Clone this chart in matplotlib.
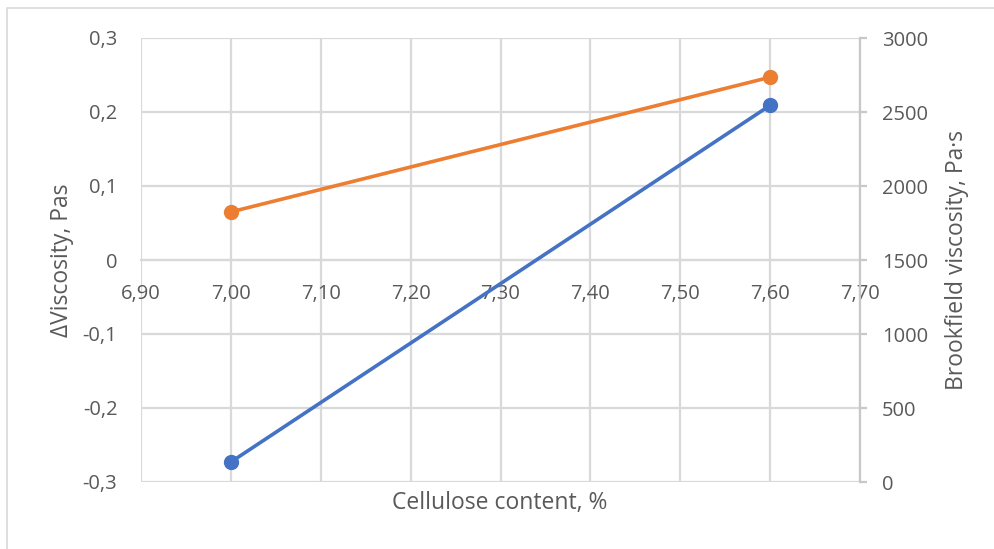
import matplotlib
matplotlib.use("Agg")
import matplotlib.pyplot as plt
from matplotlib.patches import Rectangle
from matplotlib.ticker import FuncFormatter, MultipleLocator

# cellulose content, %
cellulose = [7.00, 7.60]
# change of viscosity, Pas (left axis)
delta_visc = [-0.273, 0.209]
# Brookfield viscosity, Pa·s (right axis)
brookfield = [1825, 2735]

x_ticks = [6.90, 7.00, 7.10, 7.20, 7.30, 7.40, 7.50, 7.60, 7.70]

TXT = '#595959'
GRID = '#d9d9d9'
plt.rcParams['font.family'] = ['Open Sans', 'DejaVu Sans']

fig = plt.figure(figsize=(9.95, 5.49), dpi=100)
ax = fig.add_axes([141/995, 1 - 482/549, (860 - 141)/995, (482 - 38)/549])
ax2 = ax.twinx()

comma = lambda fmt: FuncFormatter(lambda v, p: (fmt % v).replace('.', ','))

ax.set_xlim(6.90, 7.70)
ax.set_xticks(x_ticks)
ax.xaxis.set_major_formatter(comma('%.2f'))
ax.set_ylim(-0.3, 0.3)
ax.yaxis.set_major_locator(MultipleLocator(0.1))
ax.yaxis.set_major_formatter(FuncFormatter(
    lambda v, p: '0' if abs(v) < 1e-9 else ('%.1f' % v).replace('.', ',')))
ax2.set_ylim(0, 3000)
ax2.yaxis.set_major_locator(MultipleLocator(500))

ax.grid(True, color=GRID, lw=1.6)
ax.set_axisbelow(True)
for s in ['top', 'left', 'right']:
    ax.spines[s].set_visible(False)
ax.spines['bottom'].set_position(('data', 0))
ax.spines['bottom'].set_color(GRID)
ax.spines['bottom'].set_linewidth(1.6)
for s in ['top', 'left', 'bottom']:
    ax2.spines[s].set_visible(False)
ax2.spines['right'].set_color('#c8c8c8')
ax2.spines['right'].set_linewidth(1.6)

ax.tick_params(axis='x', length=0, pad=17, labelsize=14.5, labelcolor=TXT)
ax.tick_params(axis='y', length=0, pad=17, labelsize=14.5, labelcolor=TXT)
ax2.tick_params(axis='y', length=5, width=1.6, color='#c8c8c8', pad=11,
                labelsize=14.5, labelcolor=TXT)

ax.plot(cellulose, delta_visc, color='#4472C4', lw=2.6, marker='o',
        ms=10, zorder=3, clip_on=False)
ax2.plot(cellulose, brookfield, color='#ED7D31', lw=2.6, marker='o',
         ms=10, zorder=3, clip_on=False)

fig.text(500/995, 1 - 503/549, 'Cellulose content, %', ha='center',
         va='center', fontsize=16.5, color=TXT)
fig.text(62/995, 1 - 260/549, 'ΔViscosity, Pas', ha='center', va='center',
         rotation=90, fontsize=16.5, color=TXT)
fig.text(957/995, 1 - 260/549, 'Brookfield viscosity, Pa·s', ha='center',
         va='center', rotation=90, fontsize=16.5, color=TXT)

# chart area border
fig.patches.append(Rectangle((7/995, -0.05), 1.0, 1.05 - 8/549,
                             transform=fig.transFigure, fill=False,
                             ec=GRID, lw=1.2))

fig.savefig('out.png', dpi=100, facecolor='white')
